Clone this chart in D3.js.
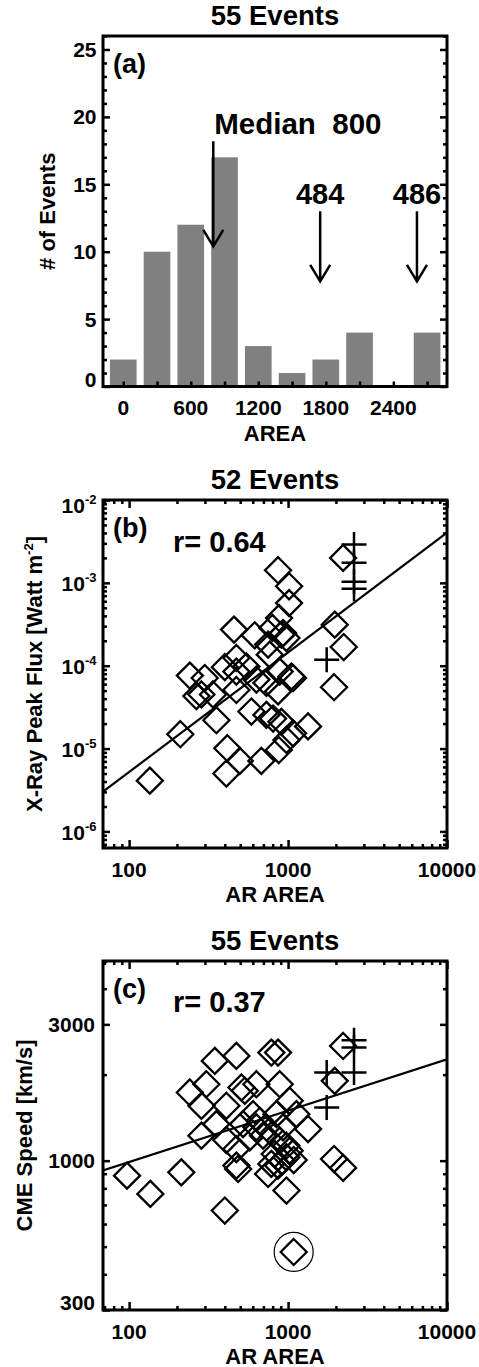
<!DOCTYPE html>
<html>
<head>
<meta charset="utf-8">
<script src="https://d3js.org/d3.v7.min.js"></script>
<style>
  body { margin: 0; background: #fff; }
  svg text { font-family: "Liberation Sans", Arial, Helvetica, sans-serif; font-weight: bold; fill: #000; }
</style>
</head>
<body>
<svg id="figure" width="479" height="1367"></svg>
<script>
// ---- (a) histogram of AR areas
var binArea = [0, 300, 600, 900, 1200, 1500, 1800, 2100, 2400, 2700];
var binCount = [2, 10, 12, 17, 3, 1, 2, 4, 0, 4];
var areaTicks = [0, 600, 1200, 1800, 2400];
var countTicks = [0, 5, 10, 15, 20, 25];
var medianArea = 800;
var regionNames = ["484", "486"];
var regionAreas = [1750, 2610];

// ---- (b) X-ray peak flux vs AR area
var fluxArea = [135, 210, 241, 299, 285, 265, 337, 354, 400, 473,
                547, 473, 473, 632, 588, 731, 805, 908, 1075, 1336,
                415, 497, 409, 679, 874, 977, 731, 865, 1049, 1075,
                886, 767, 749, 797, 908, 977, 930, 617, 457, 878,
                1015, 1015, 865, 2220, 1966, 2240, 1947];
var fluxPeak = [4.1e-6, 1.49e-5, 7.6e-5, 7.1e-5, 4.5e-5, 4.3e-5, 4.5e-5, 2.2e-5, 9.6e-5, 1.24e-4,
                9.8e-5, 8.5e-5, 5.1e-5, 6.8e-5, 2.8e-5, 2.55e-5, 2.3e-5, 2.1e-5, 1.53e-5, 1.85e-5,
                1.01e-5, 7.1e-6, 5.0e-6, 7.1e-6, 9.6e-6, 1.27e-5, 6.2e-5, 4.9e-5, 7.4e-5, 7.1e-5,
                8.5e-5, 1.36e-4, 1.8e-4, 2.86e-4, 2.37e-4, 2.16e-4, 2.48e-4, 2.33e-4, 2.73e-4, 3.77e-4,
                5.7e-4, 9.1e-4, 1.42e-3, 2.0e-3, 3.13e-4, 1.68e-4, 5.5e-5];
var fluxCrossArea = [2600, 2600, 2600, 2600, 1750];
var fluxCrossPeak = [2.9e-3, 1.75e-3, 1.03e-3, 8.5e-4, 1.18e-4];
var fluxFit = [-8.171, 1.444];   // log10(flux) = a + b*log10(area)
var fluxR = "0.64";
var fluxTicks = [1e-6, 1e-5, 1e-4, 1e-3, 1e-2];

// ---- (c) CME speed vs AR area
var speedArea = [97, 136, 213, 400, 1085, 977, 749, 865, 920, 1085,
                 1947, 2220, 485, 473, 285, 354, 409, 473, 602, 664,
                 632, 767, 845, 930, 886, 977, 1336, 1128, 1024, 886,
                 632, 509, 534, 306, 241, 285, 409, 346, 473, 785,
                 865, 2220, 1966, 574, 824, 696, 1024, 521, 785, 977];
var speedCme = [886, 765, 910, 669, 479, 786, 898, 961, 995, 1005,
                1013, 943, 935, 961, 1223, 1343, 1181, 1098, 1455, 1379,
                1308, 1273, 1455, 1308, 1175, 1128, 1290, 1455, 1620, 1852,
                1852, 1804, 1756, 1852, 1733, 1556, 1556, 2235, 2326, 2390,
                2390, 2521, 1903, 1206, 1055, 1223, 1084, 1343, 974, 1027];
var speedCrossArea = [2600, 2600, 2600, 1750, 1750];
var speedCrossCme = [2638, 2488, 2034, 2034, 1536];
var speedFit = [2.635, 0.180];
var speedR = "0.37";
var speedCircled = 4;
var speedTicks = [300, 1000, 3000];

var arTicks = [100, 1000, 10000];

var svg = d3.select("#figure");

function panel(box) {
    return svg.append("g").attr("transform", "translate(" + box.left + "," + box.top + ")");
}

function label(g, x, y, txt, size, anchor) {
    return g.append("text")
        .attr("x", x).attr("y", y)
        .attr("font-size", size)
        .attr("text-anchor", anchor || "start")
        .text(txt);
}

function ticks(g, scale, orient, box, values, size) {
    var axis, t = null;
    if (orient == "bottom") { axis = d3.axisBottom(scale); t = "translate(0," + box.height + ")"; }
    else if (orient == "top") { axis = d3.axisTop(scale); }
    else if (orient == "left") { axis = d3.axisLeft(scale); }
    else { axis = d3.axisRight(scale); t = "translate(" + box.width + ",0)"; }
    axis.tickValues(values).tickSize(-size).tickFormat("");
    var a = g.append("g").attr("transform", t).call(axis);
    a.select(".domain").remove();
    a.selectAll("text").remove();
    a.selectAll("line").attr("stroke-width", 2.5);
}

function frame(g, box) {
    g.append("rect")
        .attr("width", box.width).attr("height", box.height)
        .attr("fill", "none").attr("stroke", "#000").attr("stroke-width", 3);
}

function texts(g, box, title, tag) {
    label(g, box.width / 2, -11.5, title, 27.5, "middle");
    label(g, 10, 36.5, tag, 27);
}

function arrow(g, x, y0, y1) {
    g.append("path")
        .attr("d", "M" + x + "," + y0 + "V" + y1 +
                   "M" + (x - 10) + "," + (y1 - 16.5) + "L" + x + "," + y1 + "L" + (x + 10) + "," + (y1 - 16.5))
        .attr("fill", "none").attr("stroke", "#000").attr("stroke-width", 2.5);
}

function logAxes(g, box, xS, yS, xMajor, yMajor) {
    var xAll = xS.ticks(), yAll = yS.ticks();
    var xMinor = xAll.filter(function(d) { return xMajor.indexOf(d) < 0; });
    var yMinor = yAll.filter(function(d) { return !yMajor.some(function(m) { return Math.abs(m - d) / m < 1e-6; }); });
    ["bottom", "top"].forEach(function(o) {
        ticks(g, xS, o, box, xMajor, 8);
        ticks(g, xS, o, box, xMinor, 4);
    });
    ["left", "right"].forEach(function(o) {
        ticks(g, yS, o, box, yMajor, 7);
        ticks(g, yS, o, box, yMinor, 4);
    });
    xMajor.forEach(function(d) {
        label(g, xS(d), box.height + 28.5, d, 21, "middle");
    });
    label(g, box.width / 2, box.height + 53.5, "AR AREA", 22, "middle");
}

function scatter(g, box, xS, yS, xs, ys, cxs, cys, fit) {
    var id = "clip" + Math.round(box.top);
    g.append("clipPath").attr("id", id)
        .append("rect").attr("width", box.width).attr("height", box.height);
    var plot = g.append("g").attr("clip-path", "url(#" + id + ")");

    var xd = xS.domain();
    var line = d3.line()
        .x(function(d) { return xS(d); })
        .y(function(d) { return yS(Math.pow(10, fit[0] + fit[1] * Math.log10(d))); });
    plot.append("path").datum(xd).attr("d", line)
        .attr("fill", "none").attr("stroke", "#000").attr("stroke-width", 2.2);

    plot.selectAll(null).data(xs).enter().append("path")
        .attr("d", "M0,-13L13,0L0,13L-13,0Z")
        .attr("transform", function(d, i) { return "translate(" + xS(d) + "," + yS(ys[i]) + ")"; })
        .attr("fill", "none").attr("stroke", "#000").attr("stroke-width", 2.3);

    plot.selectAll(null).data(cxs).enter().append("path")
        .attr("d", "M-12.5,0H12.5M0,-12.5V12.5")
        .attr("transform", function(d, i) { return "translate(" + xS(d) + "," + yS(cys[i]) + ")"; })
        .attr("fill", "none").attr("stroke", "#000").attr("stroke-width", 2.5);
}

// ================= (a)
var boxA = {left: 103, top: 36, width: 344, height: 350.5};
var gA = panel(boxA);
var xA = d3.scaleLinear().domain([-180, 2877]).range([0, boxA.width]);
var yA = d3.scaleLinear().domain([0, 26]).range([boxA.height, 0]);
var barW = xA(0.79 * (binArea[1] - binArea[0])) - xA(0);

gA.selectAll("rect.bar").data(binArea).enter().append("rect")
    .attr("class", "bar")
    .attr("x", function(d) { return xA(d) - barW / 2; })
    .attr("y", function(d, i) { return yA(binCount[i]); })
    .attr("width", barW)
    .attr("height", function(d, i) { return yA(0) - yA(binCount[i]); })
    .attr("fill", "#808080");

ticks(gA, xA, "bottom", boxA, binArea, 5);
var countMinor = d3.range(0, 27).filter(function(d) { return countTicks.indexOf(d) < 0; });
["left", "right"].forEach(function(o) {
    ticks(gA, yA, o, boxA, countTicks, 7);
    ticks(gA, yA, o, boxA, countMinor, 4);
});
frame(gA, boxA);

areaTicks.forEach(function(d) { label(gA, xA(d), boxA.height + 28.5, d, 21, "middle"); });
countTicks.forEach(function(d) {
    label(gA, -6.5, Math.min(yA(d) + 7.5, boxA.height), d, 21, "end");
});
label(gA, boxA.width / 2, boxA.height + 54.5, "AREA", 22, "middle");
gA.append("text").attr("font-size", 22).attr("text-anchor", "middle")
    .attr("transform", "translate(-48," + boxA.height / 2 + ") rotate(-90)")
    .text("# of Events");
texts(gA, boxA, d3.sum(binCount) + " Events", "(a)");

arrow(gA, xA(medianArea), yA(18.2), yA(10.4));
label(gA, xA(medianArea) + 1, yA(18.2) - 7.5, "Median  " + medianArea, 29.5).style("white-space", "pre");
regionAreas.forEach(function(d, i) {
    arrow(gA, xA(d), yA(13), yA(7.8));
    label(gA, xA(d), yA(13) - 7, regionNames[i], 29, "middle");
});

// ================= (b)
var boxB = {left: 103, top: 500, width: 344, height: 348};
var gB = panel(boxB);
var xB = d3.scaleLog().domain([68.5, 10000]).range([0, boxB.width]);
var yB = d3.scaleLog().domain([Math.pow(10, -6.2), 1e-2]).range([boxB.height, 0]);

scatter(gB, boxB, xB, yB, fluxArea, fluxPeak, fluxCrossArea, fluxCrossPeak, fluxFit);
logAxes(gB, boxB, xB, yB, arTicks, fluxTicks);
frame(gB, boxB);

fluxTicks.forEach(function(d) {
    var t = gB.append("text").attr("font-size", 21).attr("text-anchor", "end")
        .attr("x", -6.5).attr("y", Math.min(Math.max(yB(d) + 8.5, 13), boxB.height));
    t.append("tspan").text("10");
    t.append("tspan").attr("dy", -9).attr("font-size", 13).text(String(Math.round(Math.log10(d))));
});
var tb = gB.append("text").attr("font-size", 22).attr("text-anchor", "middle")
    .attr("transform", "translate(-61.5," + boxB.height / 2 + ") rotate(-90)");
tb.append("tspan").text("X-Ray Peak Flux [Watt m");
tb.append("tspan").attr("dy", -9).attr("font-size", 13).text("-2");
tb.append("tspan").attr("dy", 9).text("]");
texts(gB, boxB, (fluxArea.length + fluxCrossArea.length) + " Events", "(b)");
label(gB, 70, 51.5, "r= " + fluxR, 29);

// ================= (c)
var boxC = {left: 103, top: 961, width: 344, height: 349};
var gC = panel(boxC);
var xC = d3.scaleLog().domain([68.5, 10000]).range([0, boxC.width]);
var yC = d3.scaleLog().domain([300, 5000]).range([boxC.height, 0]);

scatter(gC, boxC, xC, yC, speedArea, speedCme, speedCrossArea, speedCrossCme, speedFit);
gC.append("circle")
    .attr("cx", xC(speedArea[speedCircled])).attr("cy", yC(speedCme[speedCircled]))
    .attr("r", 19.5).attr("fill", "none").attr("stroke", "#000").attr("stroke-width", 1.2);
logAxes(gC, boxC, xC, yC, arTicks, speedTicks);
frame(gC, boxC);

speedTicks.forEach(function(d) {
    label(gC, -8, Math.min(yC(d) + 7.5, boxC.height), d, 21, "end");
});
gC.append("text").attr("font-size", 22).attr("text-anchor", "middle")
    .attr("transform", "translate(-71.5," + boxC.height / 2 + ") rotate(-90)")
    .text("CME Speed [km/s]");
texts(gC, boxC, (speedArea.length + speedCrossArea.length) + " Events", "(c)");
label(gC, 70, 50.5, "r= " + speedR, 29);
</script>
</body>
</html>
